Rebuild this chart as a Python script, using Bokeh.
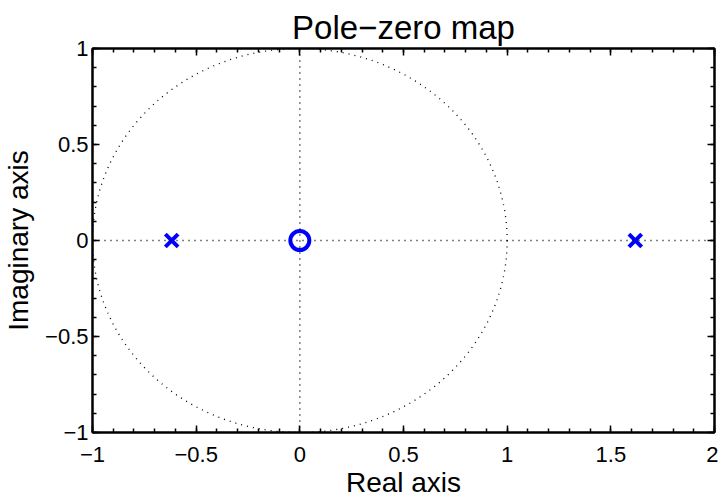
import numpy as np
from bokeh.plotting import figure
from bokeh.models import LinearAxis, FixedTicker, Range1d, Span
from bokeh.embed import file_html
from bokeh.resources import INLINE

# Data: poles and zeros (real, imaginary)
pole_re = [-0.618, 1.618]
pole_im = [0.0, 0.0]
zero_re = [0.0]
zero_im = [0.0]

x_ticks = [-1, -0.5, 0, 0.5, 1, 1.5, 2]
x_labels = ["\u22121", "\u22120.5", "0", "0.5", "1", "1.5", "2"]
y_ticks = [-1, -0.5, 0, 0.5, 1]
y_labels = ["\u22121", "\u22120.5", "0", "0.5", "1"]

FONT = "Liberation Sans"

x_minor = [round(v, 2) for v in np.arange(-1, 2.001, 0.1)]
y_minor = [round(v, 2) for v in np.arange(-1, 1.001, 0.1)]

p = figure(frame_width=622, frame_height=384,
           x_range=Range1d(-1, 2), y_range=Range1d(-1, 1),
           output_backend="svg", toolbar_location=None,
           min_border_left=85, min_border_right=4,
           min_border_top=48, min_border_bottom=58,
           background_fill_color="white", border_fill_color="white")
p.xgrid.visible = False
p.ygrid.visible = False
p.outline_line_color = "black"
p.outline_line_width = 2
p.outline_line_alpha = 1.0

p.title.text = "Pole\u2212zero map"
p.title.align = "center"
p.title.text_font = FONT
p.title.text_font_size = "33px"
p.title.text_font_style = "normal"
p.title.text_color = "black"
p.title.standoff = 6

xt = FixedTicker(ticks=x_ticks, minor_ticks=x_minor)
yt = FixedTicker(ticks=y_ticks, minor_ticks=y_minor)


def style(ax, ticker, labels, ticks, show):
    ax.ticker = ticker
    ax.axis_line_color = "black"
    ax.axis_line_width = 2
    ax.major_tick_in = 7
    ax.major_tick_out = 0
    ax.minor_tick_in = 4
    ax.minor_tick_out = 0
    ax.major_tick_line_width = 1.5
    ax.minor_tick_line_width = 1.5
    ax.major_tick_line_color = "black"
    ax.minor_tick_line_color = "black"
    ax.major_label_text_font = FONT
    ax.major_label_text_color = "black"
    ax.major_label_text_font_size = "22px"
    if show:
        ax.major_label_overrides = {t: l for t, l in zip(ticks, labels)}
    else:
        ax.major_label_overrides = {t: "" for t in ticks}
        ax.major_label_standoff = 0


xa = p.xaxis[0]
ya = p.yaxis[0]
style(xa, xt, x_labels, x_ticks, True)
style(ya, yt, y_labels, y_ticks, True)
xa.major_label_standoff = 14
ya.major_label_standoff = 4
xa.axis_label = "Real axis"
ya.axis_label = "Imaginary axis"
for ax in (xa, ya):
    ax.axis_label_text_font = FONT
    ax.axis_label_text_font_size = "28px"
    ax.axis_label_text_font_style = "normal"
    ax.axis_label_text_color = "black"
xa.axis_label_standoff = 2
ya.axis_label_standoff = 8

top = LinearAxis()
right = LinearAxis()
style(top, xt, x_labels, x_ticks, False)
style(right, yt, y_labels, y_ticks, False)
p.add_layout(top, "above")
p.add_layout(right, "right")

# dotted reference lines and unit circle
p.add_layout(Span(location=0, dimension="width", line_color="black",
                  line_dash="1 5", line_width=1.5))
p.add_layout(Span(location=0, dimension="height", line_color="black",
                  line_dash="1 5", line_width=1.5))
p.ellipse(x=0, y=0, width=2, height=2, fill_color=None,
          line_color="black", line_dash="1 5", line_width=1.3)

p.scatter(pole_re, pole_im, marker="x", size=18, line_width=4,
          line_color="#0000ff")
p.scatter(zero_re, zero_im, marker="circle", size=19, line_width=4,
          line_color="#0000ff", fill_color=None)

open("out.html", "w").write(file_html(p, INLINE))
